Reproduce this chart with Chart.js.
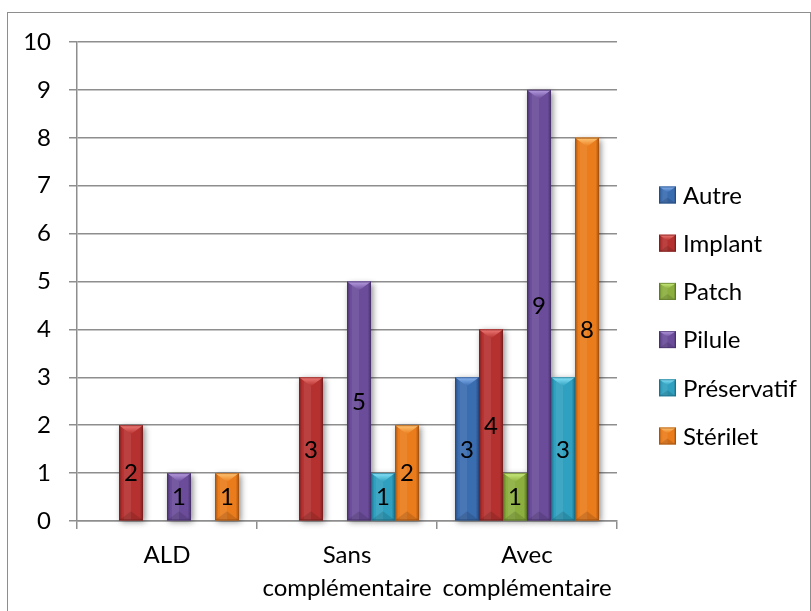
<!DOCTYPE html>
<html><head><meta charset="utf-8">
<script src="https://cdn.jsdelivr.net/npm/chart.js@4/dist/chart.umd.min.js"></script>
<style>html,body{margin:0;padding:0;background:#fff}#wrap{position:relative;width:811px;height:611px}</style>
</head><body><div id="wrap"><canvas id="c" width="811" height="611"></canvas></div>
<script>
// ---- data ----
const categories = ['ALD', ['Sans', 'complémentaire'], ['Avec', 'complémentaire']];
const seriesNames = ['Autre', 'Implant', 'Patch', 'Pilule', 'Préservatif', 'Stérilet'];
const autre       = [0, 0, 3];
const implant     = [2, 3, 4];
const patch       = [0, 0, 1];
const pilule      = [1, 5, 9];
const preservatif = [0, 1, 3];
const sterilet    = [1, 2, 8];
const yMin = 0, yMax = 10, yStep = 1;

// ---- styles ----
const FONT = 'Lato, "Open Sans", sans-serif';
const palette = [
  {base:'#3a6cb0', light:'#8ab6f2', dark:'#264a7e'},
  {base:'#b5312f', light:'#f07c78', dark:'#7a1f1f'},
  {base:'#8bae3e', light:'#cdee80', dark:'#5a7624'},
  {base:'#6b4c9a', light:'#b89fe2', dark:'#47326b'},
  {base:'#2fa0bf', light:'#8ae4fa', dark:'#1d6d86'},
  {base:'#ea7c1c', light:'#ffc777', dark:'#a4520f'}
];
const seriesValues = [autre, implant, patch, pilule, preservatif, sterilet];
const GRID = '#8e8e8e';

function drawBevelRect(ctx, x0, x1, top, bottom, col, depth) {
  const w = x1 - x0, h = bottom - top;
  const g = ctx.createLinearGradient(x0, 0, x1, 0);
  g.addColorStop(0, col.dark);
  g.addColorStop(0.14, col.base);
  g.addColorStop(0.45, col.base);
  g.addColorStop(0.86, col.base);
  g.addColorStop(1, col.dark);
  ctx.fillStyle = g;
  ctx.fillRect(x0, top, w, h);
  ctx.fillStyle = 'rgba(255,255,255,0.08)';
  ctx.fillRect(x0 + w * 0.2, top, w * 0.3, h);
  const d = Math.min(depth, w / 2, h / 2);
  ctx.beginPath();
  ctx.moveTo(x0, top); ctx.lineTo(x1, top); ctx.lineTo(x0 + w / 2, top + d); ctx.closePath();
  const tg = ctx.createLinearGradient(0, top, 0, top + d);
  tg.addColorStop(0, col.light); tg.addColorStop(1, col.base);
  ctx.fillStyle = tg; ctx.fill();
  ctx.beginPath();
  ctx.moveTo(x0, bottom); ctx.lineTo(x1, bottom); ctx.lineTo(x0 + w / 2, bottom - d); ctx.closePath();
  ctx.fillStyle = 'rgba(0,0,0,0.12)'; ctx.fill();
  ctx.strokeStyle = col.dark; ctx.globalAlpha = 0.7; ctx.lineWidth = 1;
  ctx.strokeRect(x0 + 0.5, top + 0.5, w - 1, h - 1);
  ctx.globalAlpha = 1;
}

const decorPlugin = {
  id: 'decor',
  beforeDraw(chart) {
    const ctx = chart.ctx;
    ctx.save();
    ctx.fillStyle = '#fff';
    ctx.fillRect(0, 0, chart.width, chart.height);
    ctx.strokeStyle = GRID; ctx.lineWidth = 1;
    ctx.strokeRect(7.5, 12.5, 803, 700);
    ctx.restore();
  },
  afterDatasetsDraw(chart) {
    const ctx = chart.ctx;
    ctx.save();
    const bars = [];
    chart.data.datasets.forEach((ds, i) => {
      const meta = chart.getDatasetMeta(i);
      meta.data.forEach((el, j) => {
        const v = ds.data[j];
        if (!v) return;
        const p = el.getProps(['x', 'y', 'base', 'width'], true);
        bars.push({v, i, x0: p.x - p.width / 2, x1: p.x + p.width / 2, top: Math.min(p.y, p.base), bottom: Math.max(p.y, p.base), cx: p.x});
      });
    });
    bars.forEach(b => {
      ctx.save();
      ctx.shadowColor = 'rgba(0,0,0,0.45)'; ctx.shadowBlur = 6; ctx.shadowOffsetX = 2; ctx.shadowOffsetY = 2;
      ctx.fillStyle = palette[b.i].base;
      ctx.fillRect(b.x0, b.top, b.x1 - b.x0, b.bottom - b.top);
      ctx.restore();
    });
    bars.forEach(b => drawBevelRect(ctx, b.x0, b.x1, b.top, b.bottom, palette[b.i], 9));
    ctx.fillStyle = '#000';
    ctx.font = '24px ' + FONT;
    ctx.textAlign = 'center'; ctx.textBaseline = 'middle';
    bars.forEach(b => ctx.fillText(String(b.v), b.cx, (b.top + b.bottom) / 2 + 1));
    ctx.restore();
  },
  afterDraw(chart) {
    const ctx = chart.ctx;
    const area = chart.chartArea;
    ctx.save();
    const lx = area.right + 42, ly0 = 195, step = 48.2, bs = 17;
    ctx.font = '24px ' + FONT;
    ctx.textAlign = 'left'; ctx.textBaseline = 'middle';
    seriesNames.forEach((name, i) => {
      const cy = ly0 + i * step;
      drawBevelRect(ctx, lx, lx + bs, cy - bs / 2, cy + bs / 2, palette[i], 6);
      ctx.fillStyle = '#000';
      ctx.fillText(name, lx + bs + 7, cy + 1);
    });
    ctx.restore();
  }
};

new Chart(document.getElementById('c'), {
  type: 'bar',
  data: {
    labels: categories,
    datasets: seriesNames.map((n, i) => ({
      label: n,
      data: seriesValues[i],
      backgroundColor: palette[i].base,
      borderWidth: 0,
      barPercentage: 1.0,
      categoryPercentage: 0.8
    }))
  },
  options: {
    responsive: false,
    animation: false,
    devicePixelRatio: 1,
    layout: {padding: {top: 42, right: 194, left: 0, bottom: 0}},
    plugins: {legend: {display: false}, tooltip: {enabled: false}},
    scales: {
      x: {
        ticks: {color: '#000', font: {family: FONT, size: 24, lineHeight: 1.375}, padding: 10, maxRotation: 0, minRotation: 0, autoSkip: false},
        grid: {display: true, drawOnChartArea: false, offset: true, color: GRID, lineWidth: 1.5, tickLength: 8},
        border: {display: true, color: GRID, width: 1.5},
        afterFit(s) { s.height = 90; }
      },
      y: {
        min: yMin, max: yMax,
        ticks: {stepSize: yStep, color: '#000', font: {family: FONT, size: 24}, padding: 18},
        grid: {color: GRID, lineWidth: 1.5, tickLength: 8},
        border: {display: true, color: GRID, width: 1.5},
        afterFit(s) { s.width = 77; }
      }
    }
  },
  plugins: [decorPlugin]
});
</script>
</body></html>
